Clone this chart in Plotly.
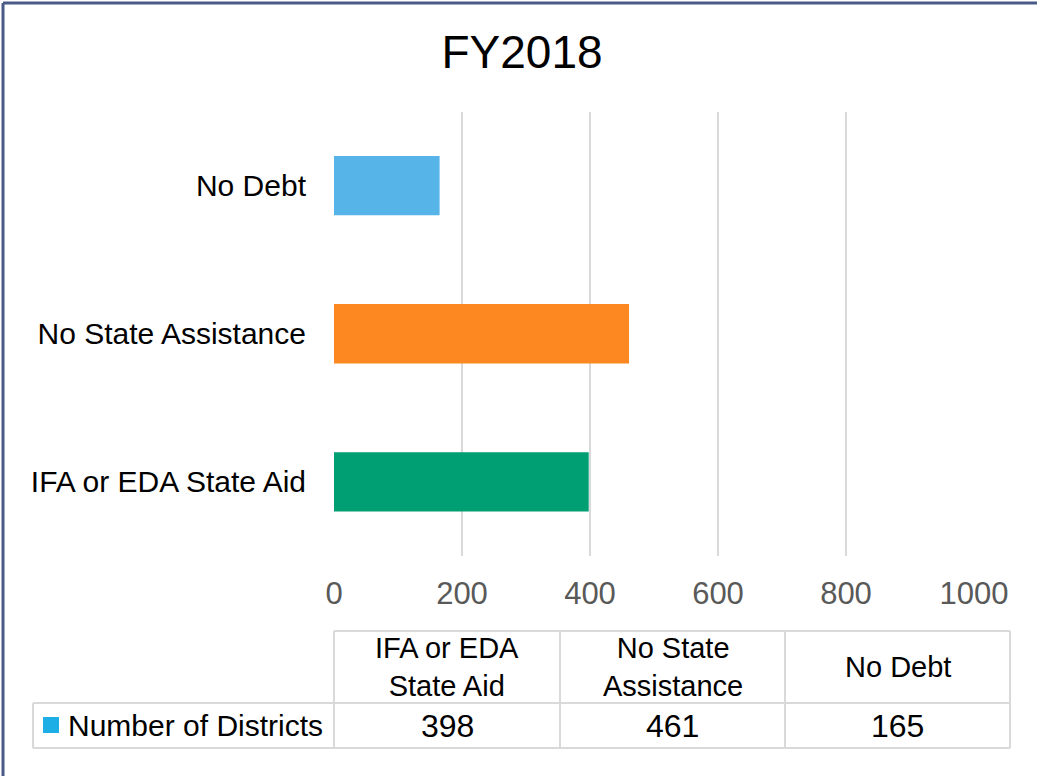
import plotly.graph_objects as go

W, H = 1037, 776

categories = ["IFA or EDA State Aid", "No State Assistance", "No Debt"]
table_headers = ["IFA or EDA<br>State Aid", "No State<br>Assistance", "No Debt"]
districts = [398, 461, 165]
series_name = "Number of Districts"
bar_colors = ["#009e73", "#fd8821", "#56b4e9"]
x_ticks = [0, 200, 400, 600, 800, 1000]

FONT = "Liberation Sans"
GRID = "#d9d9d9"


def px(x):
    return x / W


def py(y):
    return 1 - y / H


fig = go.Figure()
fig.add_trace(
    go.Bar(
        x=districts,
        y=categories,
        orientation="h",
        marker=dict(color=bar_colors, line=dict(width=0)),
        width=0.4,
        name=series_name,
        showlegend=False,
    )
)

shapes = []
annotations = []

# chart border (only top/left are inside the crop)
shapes.append(dict(type="line", xref="paper", yref="paper", x0=px(3), x1=px(1040),
                   y0=py(3), y1=py(3), line=dict(color="#4b5a87", width=3)))
shapes.append(dict(type="line", xref="paper", yref="paper", x0=px(3), x1=px(3),
                   y0=py(3), y1=py(780), line=dict(color="#4b5a87", width=3)))

# data table below the axis
col_edges = [334, 560, 785, 1010]
top, mid, bot = 631, 703, 748
line = dict(color=GRID, width=2)
shapes.append(dict(type="line", xref="paper", yref="paper", x0=px(334), x1=px(1010),
                   y0=py(top), y1=py(top), line=line))
shapes.append(dict(type="line", xref="paper", yref="paper", x0=px(33), x1=px(1010),
                   y0=py(mid), y1=py(mid), line=line))
shapes.append(dict(type="line", xref="paper", yref="paper", x0=px(33), x1=px(1010),
                   y0=py(bot), y1=py(bot), line=line))
shapes.append(dict(type="line", xref="paper", yref="paper", x0=px(33), x1=px(33),
                   y0=py(mid), y1=py(bot), line=line))
for xe in col_edges:
    shapes.append(dict(type="line", xref="paper", yref="paper", x0=px(xe), x1=px(xe),
                       y0=py(top), y1=py(bot), line=line))

for i, (hdr, val) in enumerate(zip(table_headers, districts)):
    cx = (col_edges[i] + col_edges[i + 1]) / 2
    annotations.append(dict(x=px(cx), y=py((top + mid) / 2), xref="paper", yref="paper",
                            text=hdr, showarrow=False, xanchor="center", yanchor="middle",
                            font=dict(family=FONT, size=29, color="#000000")))
    annotations.append(dict(x=px(cx), y=py((mid + bot) / 2), xref="paper", yref="paper",
                            text=str(val), showarrow=False, xanchor="center", yanchor="middle",
                            font=dict(family=FONT, size=32, color="#000000")))

# legend key cell
shapes.append(dict(type="rect", xref="paper", yref="paper", x0=px(43), x1=px(59),
                   y0=py(733), y1=py(717), fillcolor="#1eaee6", line=dict(width=0)))
annotations.append(dict(x=px(66), y=py((mid + bot) / 2), xref="paper", yref="paper",
                        text=series_name, showarrow=False, xanchor="left", yanchor="middle",
                        font=dict(family=FONT, size=30, color="#000000")))

fig.update_layout(
    width=W,
    height=H,
    margin=dict(l=0, r=0, t=0, b=0),
    paper_bgcolor="white",
    plot_bgcolor="white",
    title=dict(text="FY2018", x=px(522), xanchor="center", y=py(52), yanchor="middle",
               font=dict(family=FONT, size=46, color="#000000")),
    xaxis=dict(
        domain=[px(334), px(974)],
        range=[0, 1000],
        tickvals=x_ticks,
        showgrid=True,
        gridcolor=GRID,
        gridwidth=2,
        zeroline=False,
        showline=False,
        ticks="",
        automargin=False,
        ticklabelstandoff=16,
        tickfont=dict(family=FONT, size=31, color="#595959"),
    ),
    yaxis=dict(
        domain=[py(556), py(111.5)],
        range=[-0.5, 2.5],
        showgrid=False,
        zeroline=False,
        showline=False,
        ticks="",
        automargin=False,
        ticklabelstandoff=27,
        tickfont=dict(family=FONT, size=30, color="#000000"),
    ),
    shapes=shapes,
    annotations=annotations,
    showlegend=False,
    bargap=0.6,
)

# drop the default body margin so the fixed-size figure fills the window exactly
fig.write_html(
    "out.html",
    config={"displayModeBar": False},
    post_script="document.body.style.margin='0';document.body.style.overflow='hidden';",
)
